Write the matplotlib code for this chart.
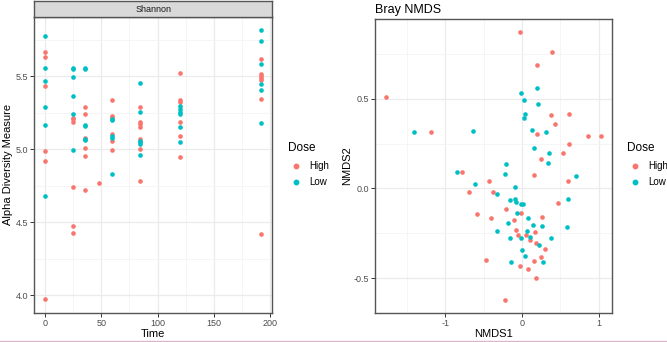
import matplotlib
matplotlib.use('Agg')
import matplotlib.pyplot as plt
import numpy as np
from matplotlib.lines import Line2D

plt.rcParams['font.family'] = ['Liberation Sans', 'DejaVu Sans']
plt.rcParams['axes.unicode_minus'] = False

RED = '#F8766D'
TEAL = '#00BFC4'

# Shannon alpha diversity, by time point
time_high = [0]*6 + [25]*6 + [36]*6 + [48] + [60]*6 + [84]*7 + [120]*6 + [192]*7
shannon_high = [5.666, 5.630, 5.430, 4.984, 4.915, 3.970,
                5.215, 5.204, 5.188, 4.741, 4.476, 4.428,
                5.286, 5.243, 5.073, 5.005, 4.952, 4.723,
                4.771,
                5.339, 5.229, 5.220, 5.101, 5.055, 4.995,
                5.288, 5.183, 5.172, 5.149, 5.069, 5.002, 4.780,
                5.522, 5.334, 5.321, 5.188, 5.092, 4.945,
                5.620, 5.513, 5.501, 5.490, 5.476, 5.346, 4.416]
time_low = [0]*6 + [25]*6 + [36]*6 + [60]*5 + [84]*6 + [120]*6 + [192]*6
shannon_low = [5.774, 5.556, 5.469, 5.286, 5.167, 4.679,
               5.556, 5.545, 5.494, 5.364, 5.243, 4.991,
               5.552, 5.547, 5.167, 5.156, 5.066, 5.060,
               5.206, 5.197, 5.087, 5.078, 4.828,
               5.451, 5.254, 5.055, 5.046, 5.037, 4.961,
               5.293, 5.275, 5.256, 5.238, 5.151, 5.046,
               5.813, 5.737, 5.586, 5.449, 5.408, 5.179]

# Bray NMDS ordination
nmds1_high = [-0.026, 0.393, 0.201, -1.773, 0.384, 0.616, 0.428, -1.188, 0.201, 0.865,
              1.031, 0.607, 0.533, 0.245, 0.153, -0.777, -0.428, 0.598, -0.686, -0.380,
              0.467, -0.214, -0.009, -0.585, -0.402, -0.100, 0.258, -0.083, 0.166, -0.057,
              0.048, 0.100, 0.183, 0.293, 0.253, -0.463, 0.153, -0.031, 0.079, 0.179, -0.227]
nmds2_high = [0.870, 0.760, 0.688, 0.507, 0.409, 0.413, 0.357, 0.316, 0.303, 0.294,
              0.294, 0.247, 0.195, 0.164, 0.074, 0.089, 0.039, 0.039, -0.019, -0.022,
              -0.080, -0.117, -0.138, -0.141, -0.164, -0.175, -0.160, -0.232, -0.240, -0.260,
              -0.258, -0.288, -0.303, -0.335, -0.379, -0.398, -0.403, -0.431, -0.446, -0.500, -0.619]
nmds1_low = [-0.013, 0.201, 0.022, 0.205, 0.039, 0.022, -1.402, -0.633, 0.127, 0.310,
             0.157, 0.354, 0.336, -0.210, -0.847, -0.218, 0.699, -0.607, -0.087, -0.319,
             -0.153, -0.096, -0.074, -0.017, 0.013, 0.594, -0.066, 0.074, -0.179, 0.140,
             0.258, 0.590, -0.328, 0.066, -0.157, -0.009, 0.105, 0.376, 0.227, 0.000,
             0.035, -0.140, 0.275]
nmds2_low = [0.533, 0.558, 0.493, 0.472, 0.416, 0.390, 0.314, 0.322, 0.323, 0.314,
             0.225, 0.195, 0.141, 0.138, 0.089, 0.080, 0.071, 0.026, 0.009, -0.032,
             -0.065, -0.061, -0.076, -0.084, -0.084, -0.059, -0.134, -0.167, -0.193, -0.206,
             -0.210, -0.214, -0.236, -0.236, -0.277, -0.273, -0.270, -0.277, -0.316, -0.344,
             -0.375, -0.407, -0.411]

dose_labels = ['High', 'Low']


def style_bw(ax, xmaj, xmin, ymaj, ymin):
    ax.set_xticks(xmaj)
    ax.set_xticks(xmin, minor=True)
    ax.set_yticks(ymaj)
    ax.set_yticks(ymin, minor=True)
    ax.grid(True, which='major', color='#EBEBEB', lw=0.9)
    ax.grid(True, which='minor', color='#F4F4F4', lw=0.6)
    ax.set_axisbelow(True)
    for s in ax.spines.values():
        s.set_color('#555555')
        s.set_linewidth(1.0)
    ax.tick_params(which='major', length=2.8, width=0.7, color='#333333',
                   labelsize=6.5, labelcolor='#4D4D4D', pad=1.5)
    ax.tick_params(which='minor', length=0)


def legend_dose(fig, x, y):
    fig.text(x, y, 'Dose', fontsize=8.5, color='black', va='center')
    for i, (lab, c) in enumerate(zip(dose_labels, [RED, TEAL])):
        yy = y - 0.052 - i * 0.047
        fig.add_artist(Line2D([x + 0.012], [yy], marker='o', color=c, ms=3.2,
                              transform=fig.transFigure, lw=0))
        fig.text(x + 0.032, yy, lab, fontsize=7, color='black', va='center')


fig = plt.figure(figsize=(6.67, 3.42), dpi=100)

# Shannon panel
ax1 = fig.add_axes([0.051, 0.085, 0.357, 0.8655])
ax1.scatter(time_high, shannon_high, s=11, color=RED, lw=0, zorder=3)
ax1.scatter(time_low, shannon_low, s=11, color=TEAL, lw=0, zorder=3)
ax1.set_xlim(-9.6, 201.6)
ax1.set_ylim(3.878, 5.905)
style_bw(ax1, [0, 50, 100, 150, 200], [25, 75, 125, 175],
         [4.0, 4.5, 5.0, 5.5], [4.25, 4.75, 5.25, 5.75])
ax1.set_xlabel('Time', fontsize=8, labelpad=0.5)
ax1.set_ylabel('Alpha Diversity Measure', fontsize=8, labelpad=2)

strip = fig.add_axes([0.051, 0.9505, 0.357, 0.046])
strip.set_xticks([])
strip.set_yticks([])
strip.set_facecolor('#D9D9D9')
for s in strip.spines.values():
    s.set_color('#555555')
    s.set_linewidth(1.0)
strip.text(0.5, 0.5, 'Shannon', fontsize=6.5, color='#1A1A1A', ha='center', va='center',
           transform=strip.transAxes)

legend_dose(fig, 0.4318, 0.567)

# Bray NMDS panel
ax2 = fig.add_axes([0.5622, 0.085, 0.3553, 0.8596])
ax2.scatter(nmds1_high, nmds2_high, s=11, color=RED, lw=0, zorder=3)
ax2.scatter(nmds1_low, nmds2_low, s=11, color=TEAL, lw=0, zorder=3)
ax2.set_xlim(-1.913, 1.171)
ax2.set_ylim(-0.693, 0.944)
style_bw(ax2, [-1, 0, 1], [-1.5, -0.5, 0.5], [-0.5, 0.0, 0.5], [-0.25, 0.25, 0.75])
ax2.set_xlabel('NMDS1', fontsize=8, labelpad=0.5)
ax2.set_ylabel('NMDS2', fontsize=8, labelpad=1)
ax2.set_title('Bray NMDS', fontsize=9, loc='left', pad=4)

legend_dose(fig, 0.9395, 0.567)

fig.add_artist(Line2D([0, 1], [0.004, 0.004], color='#D8B8C8', lw=1.0,
                      transform=fig.transFigure))

plt.savefig('out.png', dpi=100)
